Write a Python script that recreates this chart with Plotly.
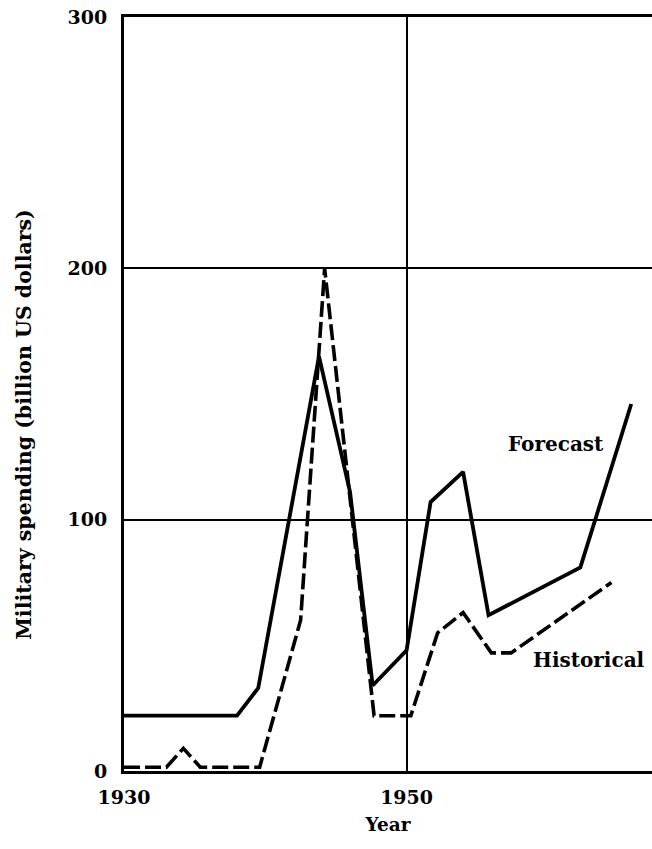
import plotly.graph_objects as go

# ---- data ----
forecast_years = [1930, 1938.0, 1939.5, 1943.8, 1946.0, 1947.6, 1950.0, 1951.7, 1954.0, 1955.8, 1962.3, 1965.9]
forecast_vals = [22, 22, 33, 165, 111, 34, 48, 107, 119, 62, 81, 146]

historical_years = [1930, 1933.0, 1934.2, 1935.4, 1939.6, 1942.5, 1944.2, 1946.0, 1947.7, 1950.3, 1952.2, 1954.0, 1956.0, 1957.4, 1964.5]
historical_vals = [1.5, 1.5, 9, 1.5, 1.5, 60, 200, 110, 22, 22, 55, 63, 47, 47, 75]

x_ticks = [1930, 1950]
x_tick_labels = ["1930", "1950"]
y_ticks = [0, 100, 200, 300]
y_tick_labels = ["0", "100", "200", "300"]

SERIF = "DejaVu Serif"

fig = go.Figure()
fig.add_trace(go.Scatter(
    x=forecast_years, y=forecast_vals, mode="lines",
    line=dict(color="black", width=3.8), name="Forecast", showlegend=False,
))
fig.add_trace(go.Scatter(
    x=historical_years, y=historical_vals, mode="lines",
    line=dict(color="black", width=3.6, dash="16px,5px"), name="Historical", showlegend=False,
))

fig.add_annotation(x=1960.6, y=130, text="<b>Forecast</b>", showarrow=False,
                   font=dict(family=SERIF, size=20, color="black"))
fig.add_annotation(x=1962.9, y=44, text="<b>Historical</b>", showarrow=False,
                   font=dict(family=SERIF, size=20, color="black"))

# y-axis title (placed slightly below the plot centre, as in the reference)
fig.add_annotation(xref="paper", yref="paper", x=-0.19, y=0.46, textangle=-90,
                   text="<b>Military spending (billion US dollars)</b>", showarrow=False,
                   xanchor="center", yanchor="middle",
                   font=dict(family=SERIF, size=20.5, color="black"))

fig.update_layout(
    width=652, height=849,
    margin=dict(l=124, r=0, t=17, b=78),
    paper_bgcolor="white", plot_bgcolor="white",
    font=dict(family=SERIF, color="black"),
)
fig.update_xaxes(
    range=[1930, 1967.37], tickvals=x_ticks, ticktext=["<b>%s</b>" % t for t in x_tick_labels],
    tickfont=dict(family=SERIF, size=19, color="black"),
    showgrid=True, gridcolor="black", gridwidth=2,
    showline=True, linecolor="black", linewidth=3, mirror=True,
    zeroline=False, ticks="", ticklabelstandoff=7,
    title=dict(text="<b>Year</b>", font=dict(family=SERIF, size=18.5, color="black"), standoff=12),
)
fig.update_yaxes(
    range=[0, 300], tickvals=y_ticks, ticktext=["<b>%s</b>" % t for t in y_tick_labels],
    tickfont=dict(family=SERIF, size=19, color="black"),
    showgrid=True, gridcolor="black", gridwidth=2,
    showline=True, linecolor="black", linewidth=3,
    zeroline=False, ticks="", ticklabelstandoff=10,
)

fig.write_html("out.html")
